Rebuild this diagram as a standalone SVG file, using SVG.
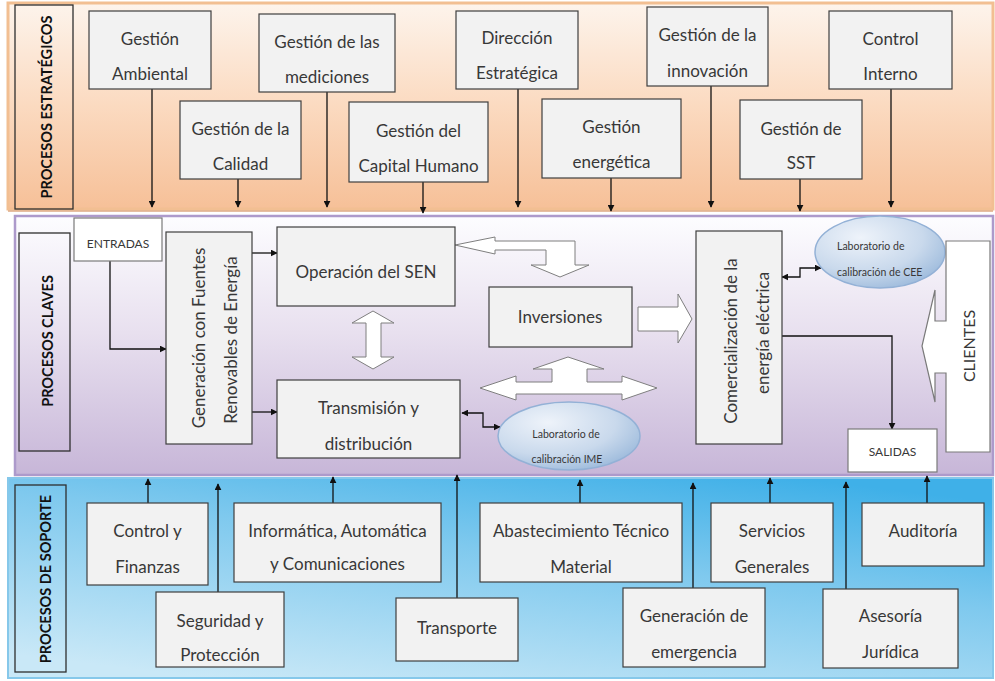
<svg xmlns="http://www.w3.org/2000/svg" width="995" height="681" viewBox="0 0 995 681">
<defs>
<linearGradient id="gTop" x1="0" y1="0" x2="0" y2="1">
<stop offset="0" stop-color="#fdf4ec"/>
<stop offset="0.5" stop-color="#fbdac0"/>
<stop offset="1" stop-color="#f6c098"/>
</linearGradient>
<linearGradient id="gMid" x1="0" y1="0" x2="0" y2="1">
<stop offset="0" stop-color="#fdfdff"/>
<stop offset="0.45" stop-color="#e8e0ef"/>
<stop offset="1" stop-color="#c7b6d8"/>
</linearGradient>
<linearGradient id="gBot" x1="0.2" y1="1" x2="0.8" y2="0">
<stop offset="0" stop-color="#c9e8f7"/>
<stop offset="0.6" stop-color="#7fc9ee"/>
<stop offset="1" stop-color="#3fb0e8"/>
</linearGradient>
<radialGradient id="gEll" cx="0.35" cy="0.3" r="0.8">
<stop offset="0" stop-color="#eef3fa"/>
<stop offset="0.6" stop-color="#c9d9ec"/>
<stop offset="1" stop-color="#98b7da"/>
</radialGradient>
<marker id="ah" viewBox="0 0 10 10" refX="9" refY="5" markerWidth="7" markerHeight="7" markerUnits="userSpaceOnUse" orient="auto-start-reverse">
<path d="M0,0 L10,5 L0,10 z" fill="#111"/>
</marker>
</defs>
<style>
.box{fill:#f2f2f2;stroke:#3f3f3f;stroke-width:1.2}
.lbl{fill:none;stroke:#2f2f2f;stroke-width:1.3}
.wbox{fill:#fff;stroke:#7a7a7a;stroke-width:1.2}
.t{font-family:Lato,"Liberation Sans",sans-serif;font-size:17px;fill:#383838;text-anchor:middle}
.h{font-weight:bold;font-size:14.5px;fill:#111}
.r{font-size:17px}
.sm{font-size:12px}
.xs{font-size:10.5px}
.con{fill:none;stroke:#111;stroke-width:1.3;marker-end:url(#ah)}
.dbl{marker-start:url(#ah)}
.blk{fill:#fff;stroke:#7f7f7f;stroke-width:1}
.ell{fill:url(#gEll);stroke:#93b1d6;stroke-width:1.5}
</style>

<g id="bands">
<rect x="8" y="3" width="985" height="206" fill="url(#gTop)" stroke="#f2bf92" stroke-width="3"/>
<line x1="8" y1="211" x2="993" y2="211" stroke="#dca57c" stroke-width="2" opacity="0.7"/>
<rect x="15" y="216" width="978" height="259" fill="url(#gMid)" stroke="#ad9acb" stroke-width="2.5"/>
<rect x="8" y="478" width="985" height="200" fill="url(#gBot)" stroke="#86c8ea" stroke-width="2"/>
</g>

<g id="lane-labels">
<rect class="lbl" x="15" y="5" width="58" height="204"/>
<text class="t h" transform="translate(52,107) rotate(-90)">PROCESOS ESTRATÉGICOS</text>
<rect class="lbl" x="19" y="233" width="51" height="218"/>
<text class="t h" transform="translate(53,341) rotate(-90)">PROCESOS CLAVES</text>
<rect class="lbl" x="15" y="485" width="51" height="187"/>
<text class="t h" transform="translate(51,579) rotate(-90)">PROCESOS DE SOPORTE</text>
</g>

<g id="connectors">
<path class="con" d="M152,89 V207"/>
<path class="con" d="M238,179 V207"/>
<path class="con" d="M327,92 V207"/>
<path class="con" d="M423,182 V213"/>
<path class="con" d="M518,89 V207"/>
<path class="con" d="M611,178 V211"/>
<path class="con" d="M711,86 V207"/>
<path class="con" d="M800,179 V211"/>
<path class="con" d="M891,89 V207"/>
<path class="con" d="M110,261 V349 H166"/>
<path class="con" d="M252,253 H277"/>
<path class="con" d="M252,412 H277"/>
<path class="con dbl" d="M462,413 H483 V427 H500"/>
<path class="con dbl" d="M782,277 H800 V268 H821"/>
<path class="con" d="M782,336 H892 V429"/>
<path class="con" d="M148,503 V479"/>
<path class="con" d="M218,592 V484"/>
<path class="con" d="M333,503 V477"/>
<path class="con" d="M457,598 V475"/>
<path class="con" d="M580,503 V480"/>
<path class="con" d="M693,588 V483"/>
<path class="con" d="M770,503 V478"/>
<path class="con" d="M846,589 V482"/>
<path class="con" d="M927,503 V476"/>
</g>

<g id="block-arrows">
<polygon class="blk" points="455,245 495,237 495,241 575,241 575,265 589,265 560,277 531,265 546,265 546,250 495,250 495,254"/>
<polygon class="blk" points="638,307 678,307 678,294 692,319 678,343 678,331 638,331"/>
<polygon class="blk" points="480,388 516,376 516,382 552,382 552,369 533,369 568,357 604,369 587,369 587,382 622,382 622,376 657,388 622,400 622,394 516,394 516,400"/>
<polygon class="blk" points="373,311 394,323 381,323 381,357 394,357 373,369 352,357 366,357 366,323 352,323"/>
</g>

<g id="n-ambiental"><rect class="box" x="89" y="11" width="122" height="78"/><text class="t" x="150" y="45">Gestión</text><text class="t" x="150" y="80">Ambiental</text></g>
<g id="n-calidad"><rect class="box" x="180" y="101" width="121" height="78"/><text class="t" x="240.5" y="135">Gestión de la</text><text class="t" x="240.5" y="170">Calidad</text></g>
<g id="n-mediciones"><rect class="box" x="259" y="14" width="136" height="78"/><text class="t" x="327" y="48">Gestión de las</text><text class="t" x="327" y="83">mediciones</text></g>
<g id="n-capital"><rect class="box" x="349" y="102" width="139" height="80"/><text class="t" x="418.5" y="137">Gestión del</text><text class="t" x="418.5" y="172">Capital Humano</text></g>
<g id="n-direccion"><rect class="box" x="456" y="11" width="122" height="78"/><text class="t" x="517" y="44">Dirección</text><text class="t" x="517" y="79">Estratégica</text></g>
<g id="n-energetica"><rect class="box" x="542" y="99" width="139" height="79"/><text class="t" x="611.5" y="133">Gestión</text><text class="t" x="611.5" y="168">energética</text></g>
<g id="n-innovacion"><rect class="box" x="647" y="7" width="121" height="79"/><text class="t" x="707.5" y="41">Gestión de la</text><text class="t" x="707.5" y="77">innovación</text></g>
<g id="n-sst"><rect class="box" x="740" y="100" width="122" height="79"/><text class="t" x="801" y="135">Gestión de</text><text class="t" x="801" y="169">SST</text></g>
<g id="n-control-interno"><rect class="box" x="829" y="11" width="123" height="78"/><text class="t" x="890.5" y="45">Control</text><text class="t" x="890.5" y="80">Interno</text></g>

<g id="n-entradas"><rect class="wbox" x="74" y="218" width="88" height="43"/><text class="t sm" x="118" y="248">ENTRADAS</text></g>
<g id="n-generacion"><rect class="box" x="166" y="232" width="86" height="212"/><text class="t r" transform="translate(205,338) rotate(-90)">Generación con Fuentes</text><text class="t r" transform="translate(237,340) rotate(-90)">Renovables de Energía</text></g>
<g id="n-operacion"><rect class="box" x="277" y="227" width="178" height="79"/><text class="t" x="366" y="278">Operación del SEN</text></g>
<g id="n-transmision"><rect class="box" x="277" y="380" width="183" height="78"/><text class="t" x="368.5" y="414">Transmisión y</text><text class="t" x="368.5" y="450">distribución</text></g>
<g id="n-inversiones"><rect class="box" x="489" y="287" width="143" height="60"/><text class="t" x="560" y="323">Inversiones</text></g>
<g id="n-comercializacion"><rect class="box" x="696" y="231" width="86" height="213"/><text class="t r" transform="translate(737,341) rotate(-90)">Comercialización de la</text><text class="t r" transform="translate(769,333) rotate(-90)">energía eléctrica</text></g>
<g id="n-lab-cee"><ellipse class="ell" cx="880" cy="252" rx="65" ry="36"/><text class="t xs" x="837" y="250" style="text-anchor:start">Laboratorio de</text><text class="t xs" x="837" y="276" style="text-anchor:start">calibración de CEE</text></g>
<g id="n-lab-ime"><ellipse class="ell" cx="569" cy="436" rx="71" ry="34"/><text class="t xs" x="566" y="438">Laboratorio de</text><text class="t xs" x="567" y="463">calibración IME</text></g>
<g id="n-salidas"><rect class="wbox" x="848" y="429" width="89" height="43"/><text class="t sm" x="892.5" y="456">SALIDAS</text></g>
<g id="n-clientes"><polygon class="wbox" points="946,241 990,241 990,452 946,452 946,373 935,373 935,402 922,346 935,290 935,321 946,321"/><text class="t" style="font-size:16px" transform="translate(975,346) rotate(-90)">CLIENTES</text></g>

<g id="n-control-finanzas"><rect class="box" x="87" y="503" width="121" height="82"/><text class="t" x="147.5" y="537">Control y</text><text class="t" x="147.5" y="573">Finanzas</text></g>
<g id="n-seguridad"><rect class="box" x="156" y="592" width="128" height="75"/><text class="t" x="220" y="627">Seguridad y</text><text class="t" x="220" y="661">Protección</text></g>
<g id="n-informatica"><rect class="box" x="234" y="503" width="207" height="79"/><text class="t" x="337.5" y="537">Informática, Automática</text><text class="t" x="337.5" y="570">y Comunicaciones</text></g>
<g id="n-transporte"><rect class="box" x="396" y="598" width="122" height="63"/><text class="t" x="457" y="634">Transporte</text></g>
<g id="n-abastecimiento"><rect class="box" x="480" y="503" width="202" height="79"/><text class="t" x="581" y="537">Abastecimiento Técnico</text><text class="t" x="581" y="573">Material</text></g>
<g id="n-emergencia"><rect class="box" x="623" y="588" width="142" height="79"/><text class="t" x="694" y="622">Generación de</text><text class="t" x="694" y="658">emergencia</text></g>
<g id="n-servicios"><rect class="box" x="711" y="503" width="122" height="79"/><text class="t" x="772" y="537">Servicios</text><text class="t" x="772" y="573">Generales</text></g>
<g id="n-asesoria"><rect class="box" x="823" y="589" width="135" height="79"/><text class="t" x="890.5" y="622">Asesoría</text><text class="t" x="890.5" y="658">Jurídica</text></g>
<g id="n-auditoria"><rect class="box" x="862" y="503" width="122" height="63"/><text class="t" x="923" y="537">Auditoría</text></g>
</svg>
